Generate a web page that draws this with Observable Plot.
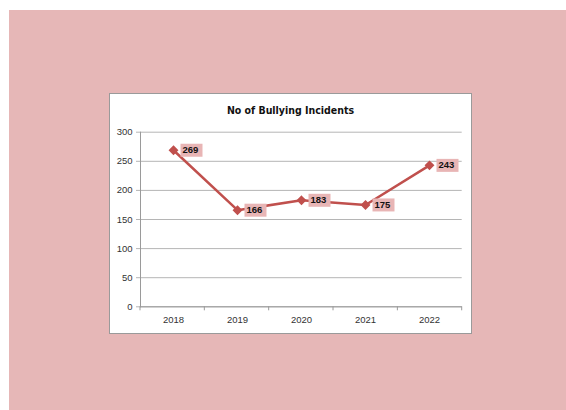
<!DOCTYPE html>
<html>
<head>
<meta charset="utf-8">
<script src="https://cdn.jsdelivr.net/npm/d3@7"></script>
<script src="https://cdn.jsdelivr.net/npm/@observablehq/plot@0.6"></script>
<style>
  html, body { margin: 0; padding: 0; background: #ffffff; width: 566px; height: 410px; overflow: hidden; }
  #bg { position: absolute; left: 9px; top: 10px; width: 557px; height: 400px; background: #e6b7b7; }
  #box { position: absolute; left: 109px; top: 93px; width: 361px; height: 239px; background: #ffffff; border: 1px solid #9a9a9a; }
  #title { position: absolute; left: 0; top: 9px; width: 361px; text-align: center;
           font: bold 10.5px "Liberation Sans Narrow", "DejaVu Sans Condensed", "Liberation Sans", sans-serif; color: #111; line-height: 14px; }
  #chart { position: absolute; left: 0; top: 0; }
</style>
</head>
<body>
<div id="bg"></div>
<div id="box">
  <div id="chart"></div>
  <div id="title"></div>
</div>
<script>
const titleText = "No of Bullying Incidents";
const years = ["2018", "2019", "2020", "2021", "2022"];
const incidents = [269, 166, 183, 175, 243];
const yTicks = [0, 50, 100, 150, 200, 250, 300];

const data = years.map((year, i) => ({year, value: incidents[i]}));

document.getElementById("title").textContent = titleText;

const lineColor = "#c0504d";
const labelBg = "#e8b5b5";
const gridColor = "#b5b5b5";
const axisColor = "#9a9a9a";

const labelBox = {
  draw(context) {
    context.moveTo(-11, -6.5);
    context.lineTo(11, -6.5);
    context.lineTo(11, 6.5);
    context.lineTo(-11, 6.5);
    context.closePath();
  }
};

function boundaryTicks(index, scales, values, dims) {
  const {width, height, marginLeft, marginRight, marginBottom} = dims;
  const step = (width - marginLeft - marginRight) / years.length;
  const yb = height - marginBottom;
  const g = d3.create("svg:g").attr("stroke", axisColor).attr("stroke-width", 1);
  for (let i = 0; i <= years.length; i++) {
    const x = marginLeft + i * step;
    g.append("line").attr("x1", x).attr("x2", x).attr("y1", yb).attr("y2", yb + 4);
  }
  return g.node();
}

const chart = Plot.plot({
  width: 361,
  height: 239,
  marginLeft: 30,
  marginRight: 9.3,
  marginTop: 37.7,
  marginBottom: 26.7,
  style: {fontFamily: "'Liberation Sans', sans-serif", fontSize: "9.5px", color: "#333", background: "transparent"},
  x: {type: "point", domain: years, padding: 0.5, label: null},
  y: {domain: [0, 300], label: null},
  marks: [
    Plot.gridY(yTicks, {stroke: gridColor, strokeOpacity: 1}),
    Plot.axisY({ticks: yTicks, tickSize: 4, tickPadding: 4, stroke: gridColor, label: null, fill: "#333"}),
    Plot.axisX({tickSize: 0, tickPadding: 9, label: null, fill: "#333"}),
    Plot.ruleY([0], {stroke: axisColor}),
    Plot.frame({anchor: "left", stroke: axisColor}),
    boundaryTicks,
    Plot.line(data, {x: "year", y: "value", stroke: lineColor, strokeWidth: 2.5}),
    Plot.dot(data, {x: "year", y: "value", symbol: "diamond2", r: 3.5, fill: lineColor, stroke: lineColor}),
    Plot.dot(data, {x: "year", y: "value", symbol: labelBox, r: 1, fill: labelBg, stroke: "none", dx: 18}),
    Plot.text(data, {x: "year", y: "value", text: d => String(d.value), dx: 9, textAnchor: "start",
                     fontWeight: "bold", fontSize: 9.5, fill: "#111"})
  ]
});
document.getElementById("chart").appendChild(chart);
</script>
</body>
</html>
